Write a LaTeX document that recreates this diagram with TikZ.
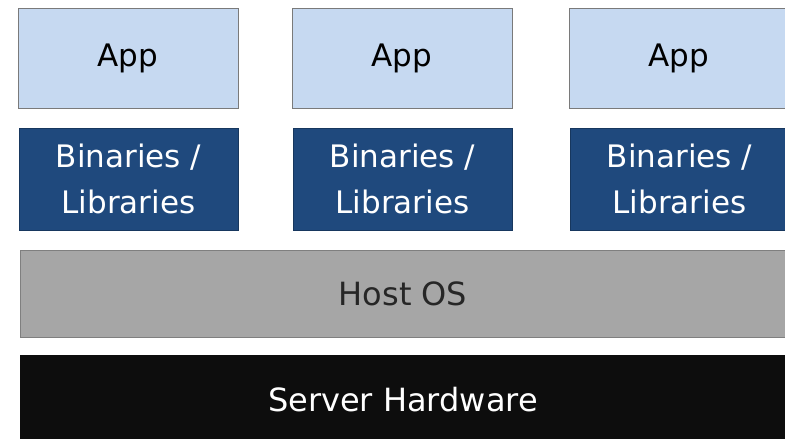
\documentclass[tikz,border=0pt]{standalone}
\usepackage{fontspec}
\setmainfont{DejaVu Sans}
\definecolor{appfill}{HTML}{C6D9F1}
\definecolor{appline}{HTML}{7A7A7A}
\definecolor{binfill}{HTML}{1F497D}
\definecolor{binline}{HTML}{17375E}
\definecolor{osfill}{HTML}{A6A6A6}
\definecolor{osline}{HTML}{7F7F7F}
\definecolor{hwfill}{HTML}{0D0D0D}
\tikzset{
  layer/.style={rectangle, inner sep=0pt, line width=0.9pt, align=center},
  appbox/.style={layer, draw=appline, fill=appfill, text=black,
    minimum width=220pt, minimum height=100pt,
    font=\fontsize{31}{46.5}\selectfont},
  binbox/.style={layer, draw=binline, fill=binfill, text=white,
    minimum width=219pt, minimum height=102pt,
    font=\fontsize{31}{46.5}\selectfont},
  osbox/.style={layer, draw=osline, fill=osfill, text=black!85,
    minimum width=766pt, minimum height=87pt,
    font=\fontsize{32}{38}\selectfont},
  hwbox/.style={layer, draw=hwfill, fill=hwfill, text=white,
    minimum width=766pt, minimum height=89pt,
    font=\fontsize{32}{38}\selectfont},
}
\begin{document}
\begin{tikzpicture}[x=1pt, y=-1pt]
  \useasboundingbox (0,0) rectangle (785,439);
  \clip (0,0) rectangle (785,439);
  \fill[white] (0,0) rectangle (785,439);
  % application boxes
  \node[appbox] (app1) at (128,58) {App};
  \node[appbox] (app2) at (402,58) {App};
  \node[appbox] (app3) at (679,58) {App};
  % binaries and libraries
  \node[binbox] (bin1) at (128.5,179) {Binaries /\\Libraries};
  \node[binbox] (bin2) at (402.5,179) {Binaries /\\Libraries};
  \node[binbox] (bin3) at (679.5,179) {Binaries /\\Libraries};
  % shared layers
  \node[osbox] (os) at (403,293.5) {Host OS};
  \node[hwbox] (hw) at (403,399.5) {Server Hardware};
\end{tikzpicture}
\end{document}
